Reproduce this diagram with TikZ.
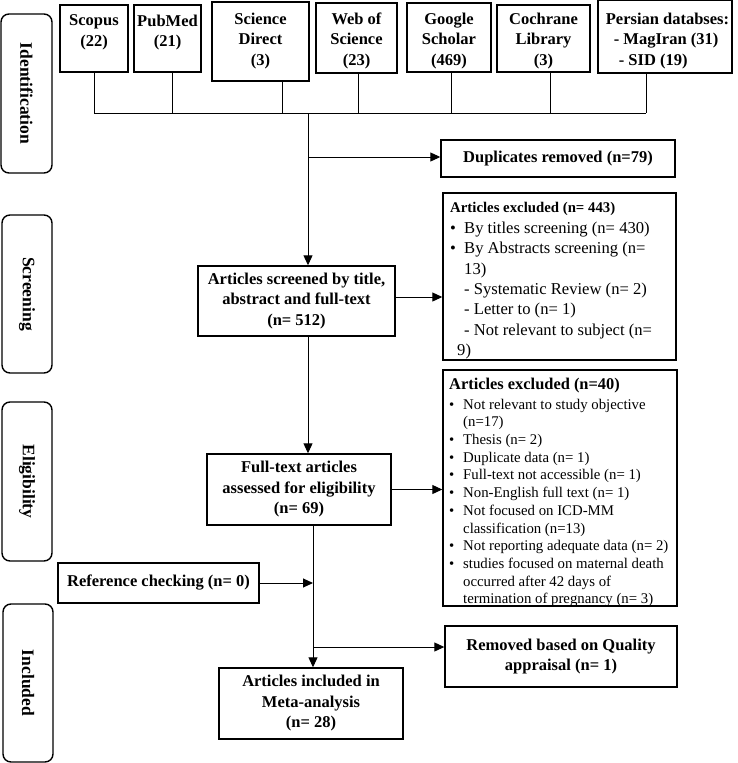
\documentclass[tikz,border=0pt]{standalone}
\usepackage{fontspec}
\setmainfont{Liberation Serif}
\usetikzlibrary{arrows.meta}
\begin{document}
\begin{tikzpicture}[x=1pt,y=-1pt,
  box/.style={draw, line width=1.4pt, inner sep=0pt, align=center, font=\bfseries\fontsize{16.5}{20.5}\selectfont},
  srctext/.style={inner sep=0pt, align=center, anchor=north, font=\bfseries\fontsize{16.5}{20.5}\selectfont},
  side/.style={draw, line width=1.4pt, rounded corners=8pt, inner sep=0pt, rotate=-90, font=\bfseries\fontsize{17.5}{20}\selectfont},
  conn/.style={line width=1pt},
  arr/.style={line width=1pt, -{Triangle[length=10pt,width=9pt]}},
  listtext/.style={inner sep=0pt, align=left, anchor=north west},
]
\useasboundingbox (0,0) rectangle (738,763);

% side labels
\node[side, minimum width=159pt, minimum height=51pt] (sid) at (26.5,93.5) {Identification};
\node[side, minimum width=158pt, minimum height=50pt] (sscr) at (27,294) {Screening};
\node[side, minimum width=159pt, minimum height=50pt] (seli) at (27,481.5) {Eligibility};
\node[side, minimum width=158pt, minimum height=50pt] (sinc) at (28,683) {Included};

% source boxes
\node[box, minimum width=68pt, minimum height=67pt] (scopus) at (94,38.5) {};
\node[box, minimum width=67pt, minimum height=67pt] (pubmed) at (167.5,38.5) {};
\node[box, minimum width=97pt, minimum height=79pt] (sd) at (260.5,41.5) {};
\node[box, minimum width=81pt, minimum height=70pt] (wos) at (356.5,38) {};
\node[box, minimum width=84pt, minimum height=69pt] (gs) at (449,37.5) {};
\node[box, minimum width=93pt, minimum height=67pt] (coch) at (543.5,38.5) {};
\node[box, minimum width=134pt, minimum height=73pt] (pers) at (665,36.5) {};

\node[srctext] (scopusT) at (94,14.5) {Scopus\\(22)};
\node[srctext] (pubmedT) at (167.5,14.5) {PubMed\\(21)};
\node[srctext] (sdT) at (260.5,12.5) {Science\\Direct\\(3)};
\node[srctext] (wosT) at (356.5,12.5) {Web of\\Science\\(23)};
\node[srctext] (gsT) at (449,12.5) {Google\\Scholar\\(469)};
\node[srctext] (cochT) at (543.5,12.5) {Cochrane\\Library\\(3)};
\node[srctext, align=left] (persT) at (667.5,12.5) {Persian databses:\\\hspace*{8pt}- MagIran (31)\\\hspace*{13pt}- SID (19)};

% bus
\coordinate (busL) at (94,113);
\coordinate (busR) at (646,113);
\coordinate (busC) at (308,113);
\coordinate (dupJ) at (308,157);
\draw[conn] (busL) -- (busR);
\draw[conn] (scopus.south) -- (scopus.south |- busL);
\draw[conn] ([xshift=4.5pt]pubmed.south) -- ([xshift=4.5pt]pubmed.south |- busL);
\draw[conn] ([xshift=21.5pt]sd.south) -- ([xshift=21.5pt]sd.south |- busL);
\draw[conn] ([xshift=1.5pt]wos.south) -- ([xshift=1.5pt]wos.south |- busL);
\draw[conn] ([xshift=2pt]gs.south) -- ([xshift=2pt]gs.south |- busL);
\draw[conn] ([xshift=6.5pt]coch.south) -- ([xshift=6.5pt]coch.south |- busL);
\draw[conn] ([xshift=-19pt]pers.south) -- ([xshift=-19pt]pers.south |- busL);

% main boxes
\node[box, minimum width=234pt, minimum height=37pt] (dup) at (558,158.5) {Duplicates removed (n=79)};
\node[box, minimum width=197pt, minimum height=70pt] (scr) at (296.5,301) {Articles screened by title,\\abstract and full-text\\(n= 512)};
\node[box, minimum width=233pt, minimum height=167pt] (excl1) at (559.5,276.5) {};
\node[box, minimum width=234pt, minimum height=236pt] (excl2) at (560,488) {};
\node[box, minimum width=184pt, minimum height=71pt] (ft) at (299,489.5) {Full-text articles\\assessed for eligibility\\(n= 69)};
\node[box, minimum width=201pt, minimum height=40pt] (ref) at (158.5,583) {Reference checking (n= 0)};
\node[box, minimum width=232pt, minimum height=61pt] (rem) at (561,656.5) {Removed based on Quality\\appraisal (n= 1)};
\node[box, minimum width=184pt, minimum height=71pt] (inc) at (311,703.5) {Articles included in\\Meta-analysis\\(n= 28)};

% excluded lists
\begin{scope}
\clip (excl1.north west) rectangle (excl1.south east);
\node[listtext, font=\fontsize{16.6}{20.4}\selectfont] (excl1T) at (450,202.5) {{\bfseries\fontsize{14.8}{20.4}\selectfont Articles excluded (n= 443)}\\
\makebox[14pt][l]{\textbullet}By titles screening (n= 430)\\
\makebox[14pt][l]{\textbullet}By Abstracts screening (n=\\
\hspace*{14pt}13)\\
\hspace*{14pt}- Systematic Review (n= 2)\\
\hspace*{14pt}- Letter to (n= 1)\\
\hspace*{14pt}- Not relevant to subject (n=\\
\hspace*{7pt}9)};
\end{scope}

\node[listtext, font=\fontsize{14.8}{17.7}\selectfont] (excl2T) at (449,378) {{\bfseries\fontsize{16.4}{17.7}\selectfont Articles excluded (n=40)}\\[1.9pt]
\makebox[14pt][l]{\textbullet}Not relevant to study objective\\
\hspace*{14pt}(n=17)\\
\makebox[14pt][l]{\textbullet}Thesis (n= 2)\\
\makebox[14pt][l]{\textbullet}Duplicate data (n= 1)\\
\makebox[14pt][l]{\textbullet}Full-text not accessible (n= 1)\\
\makebox[14pt][l]{\textbullet}Non-English full text (n= 1)\\
\makebox[14pt][l]{\textbullet}Not focused on ICD-MM\\
\hspace*{14pt}classification (n=13)\\
\makebox[14pt][l]{\textbullet}Not reporting adequate data (n= 2)\\
\makebox[14pt][l]{\textbullet}studies focused on maternal death\\
\hspace*{14pt}occurred after 42 days of\\
\hspace*{14pt}termination of pregnancy (n= 3)};

% connectors
\coordinate (refJ) at (313,583);
\coordinate (remJ) at (313,647);
\draw[arr] (busC) -- (busC |- scr.north);
\draw[arr] (dupJ) -- (dupJ -| dup.west);
\draw[arr] ([yshift=4pt]scr.east) -- ([yshift=4pt]scr.east -| excl1.west);
\draw[arr] ([xshift=11.5pt]scr.south) -- ([xshift=11.5pt]scr.south |- ft.north);
\draw[arr] (ft.east) -- (ft.east -| excl2.west);
\draw[arr] ([xshift=14pt]ft.south) -- ([xshift=14pt]ft.south |- inc.north);
\draw[arr] (ref.east) -- (refJ);
\draw[arr] (remJ) -- (remJ -| rem.west);
\end{tikzpicture}
\end{document}
